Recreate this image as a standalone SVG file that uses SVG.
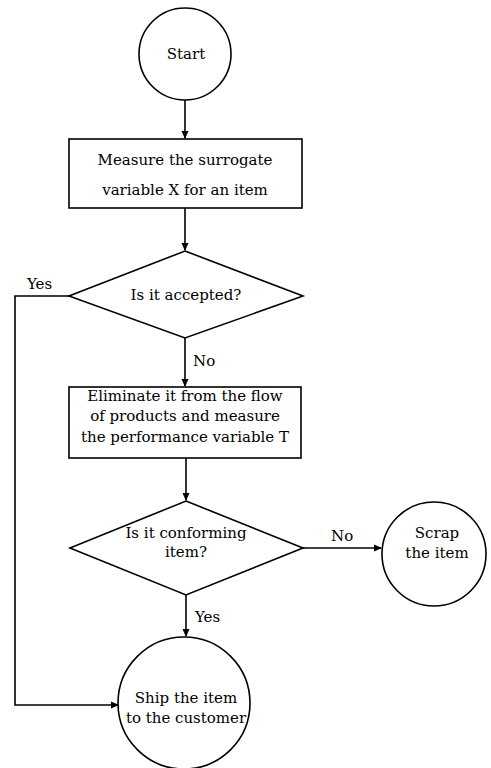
<svg xmlns="http://www.w3.org/2000/svg" width="491" height="768" viewBox="0 0 491 768">
<style>
.s{fill:#fff;stroke:#000;stroke-width:1.6}
.c{fill:none;stroke:#000;stroke-width:1.6}
text{font-family:"DejaVu Serif","Liberation Serif",serif;font-size:15px;fill:#000;text-anchor:middle}
.l{text-anchor:start}
</style>
<defs>
<marker id="a" markerWidth="8" markerHeight="8" refX="7" refY="4" orient="auto" markerUnits="userSpaceOnUse">
<path d="M0,0.5 L8,4 L0,7.5 Z" fill="#000"/>
</marker>
</defs>
<rect width="491" height="768" fill="#fff"/>
<g id="connectors">
<line class="c" x1="185" y1="100" x2="185" y2="138" marker-end="url(#a)"/>
<line class="c" x1="185" y1="208" x2="185" y2="250" marker-end="url(#a)"/>
<line class="c" x1="185" y1="338" x2="185" y2="386" marker-end="url(#a)"/>
<line class="c" x1="186" y1="458" x2="186" y2="500" marker-end="url(#a)"/>
<line class="c" x1="303" y1="548" x2="381" y2="548" marker-end="url(#a)"/>
<line class="c" x1="186" y1="595" x2="186" y2="636" marker-end="url(#a)"/>
<polyline class="c" points="69,296 15,296 15,705 118,705" marker-end="url(#a)"/>
<text class="l" x="27" y="289">Yes</text>
<text class="l" x="193" y="366">No</text>
<text class="l" x="331" y="541">No</text>
<text class="l" x="195" y="622">Yes</text>
</g>
<g id="start">
<circle class="s" cx="185" cy="54" r="46"/>
<text x="186" y="59">Start</text>
</g>
<g id="measure">
<rect class="s" x="69" y="139" width="233" height="69"/>
<text x="185" y="165">Measure the surrogate</text>
<text x="185" y="195">variable X for an item</text>
</g>
<g id="accepted">
<polygon class="s" points="185,251 303,296 185,338 69,296"/>
<text x="186" y="300">Is it accepted?</text>
</g>
<g id="eliminate">
<rect class="s" x="69" y="387" width="232" height="71"/>
<text x="185" y="401">Eliminate it from the flow</text>
<text x="185" y="421">of products and measure</text>
<text x="185" y="442">the performance variable T</text>
</g>
<g id="conforming">
<polygon class="s" points="186,501 303,548 186,595 70,548"/>
<text x="186" y="538">Is it conforming</text>
<text x="186" y="557">item?</text>
</g>
<g id="scrap">
<circle class="s" cx="434" cy="554" r="52"/>
<text x="437" y="538">Scrap</text>
<text x="437" y="558">the item</text>
</g>
<g id="ship">
<circle class="s" cx="184" cy="703" r="66"/>
<text x="186" y="703">Ship the item</text>
<text x="186" y="723">to the customer</text>
</g>
</svg>
